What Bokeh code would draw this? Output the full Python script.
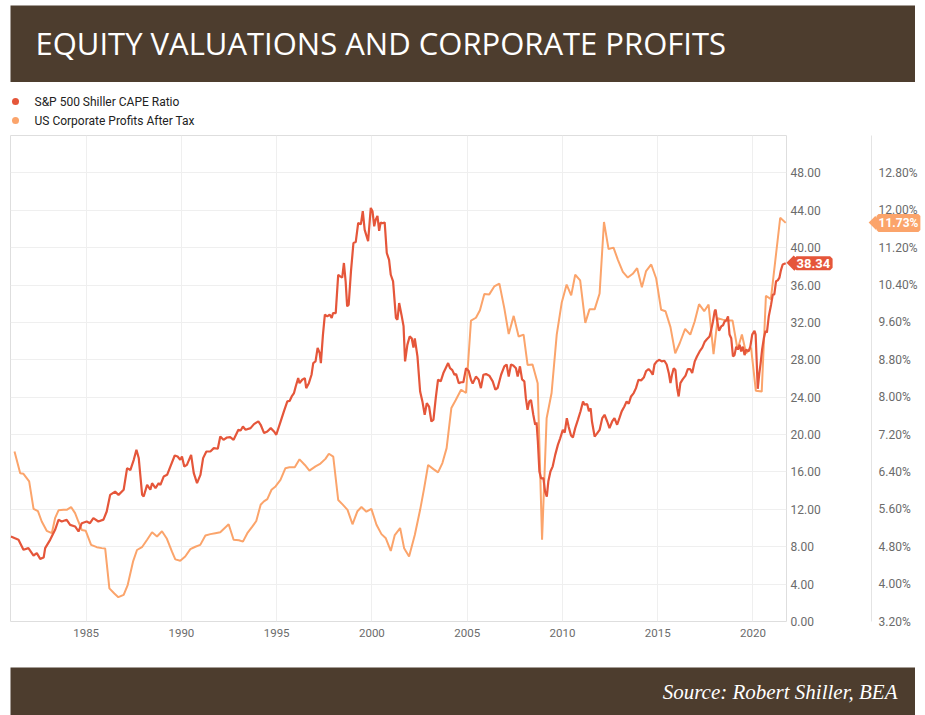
from bokeh.plotting import figure
from bokeh.models import (Range1d, LinearAxis, FixedTicker, NumeralTickFormatter,
                          PrintfTickFormatter, Label, Spacer)
from bokeh.layouts import column, row
from bokeh.core.properties import value
from bokeh.embed import file_html
from bokeh.resources import INLINE

# ---------------- data ----------------
TITLE = "EQUITY VALUATIONS AND CORPORATE PROFITS"
SOURCE = "Source: Robert Shiller, BEA"
CAPE_NAME = "S&P 500 Shiller CAPE Ratio"
PROFIT_NAME = "US Corporate Profits After Tax"

CAPE_YEAR = [
    1981.05, 1981.45, 1981.71, 1981.97, 1982.24, 1982.41, 1982.59, 1982.77, 1982.85, 1983.11,
    1983.37, 1983.55, 1983.72, 1983.98, 1984.16, 1984.42, 1984.60, 1984.77, 1985.03, 1985.20,
    1985.38, 1985.64, 1985.91, 1986.08, 1986.26, 1986.52, 1986.70, 1986.97, 1987.15, 1987.32,
    1987.50, 1987.64, 1987.76, 1987.94, 1988.02, 1988.20, 1988.37, 1988.46, 1988.64, 1988.81,
    1988.90, 1989.07, 1989.25, 1989.42, 1989.65, 1989.80, 1989.94, 1990.03, 1990.15, 1990.29,
    1990.51, 1990.65, 1990.82, 1991.00, 1991.14, 1991.31, 1991.52, 1991.70, 1991.91, 1992.04,
    1992.21, 1992.39, 1992.56, 1992.74, 1992.99, 1993.11, 1993.23, 1993.37, 1993.63, 1993.81,
    1994.04, 1994.16, 1994.34, 1994.51, 1994.69, 1994.86, 1994.98, 1995.21, 1995.38, 1995.56,
    1995.68, 1995.79, 1995.91, 1996.00, 1996.13, 1996.20, 1996.34, 1996.48, 1996.55, 1996.69,
    1996.83, 1996.92, 1997.04, 1997.15, 1997.26, 1997.32, 1997.43, 1997.53, 1997.66, 1997.78,
    1997.89, 1997.96, 1998.10, 1998.23, 1998.35, 1998.44, 1998.53, 1998.62, 1998.70, 1998.78,
    1998.90, 1999.03, 1999.15, 1999.28, 1999.42, 1999.52, 1999.62, 1999.80, 1999.94, 2000.03,
    2000.12, 2000.20, 2000.29, 2000.38, 2000.46, 2000.55, 2000.67, 2000.78, 2000.90, 2000.99,
    2001.11, 2001.26, 2001.34, 2001.43, 2001.55, 2001.66, 2001.74, 2001.86, 2001.98, 2002.09,
    2002.18, 2002.25, 2002.39, 2002.53, 2002.65, 2002.77, 2002.88, 2003.00, 2003.12, 2003.23,
    2003.35, 2003.47, 2003.61, 2003.75, 2003.87, 2004.00, 2004.10, 2004.22, 2004.33, 2004.42,
    2004.56, 2004.68, 2004.80, 2004.94, 2005.08, 2005.20, 2005.29, 2005.46, 2005.60, 2005.72,
    2005.85, 2005.99, 2006.16, 2006.34, 2006.48, 2006.60, 2006.78, 2006.95, 2007.07, 2007.18,
    2007.30, 2007.42, 2007.56, 2007.65, 2007.77, 2007.88, 2008.00, 2008.08, 2008.17, 2008.26,
    2008.35, 2008.47, 2008.57, 2008.64, 2008.71, 2008.79, 2008.88, 2009.00, 2009.09, 2009.18,
    2009.26, 2009.37, 2009.49, 2009.62, 2009.76, 2009.88, 2010.02, 2010.12, 2010.23, 2010.33,
    2010.45, 2010.55, 2010.67, 2010.81, 2010.95, 2011.08, 2011.16, 2011.30, 2011.39, 2011.48,
    2011.55, 2011.69, 2011.81, 2011.95, 2012.09, 2012.21, 2012.35, 2012.47, 2012.61, 2012.73,
    2012.87, 2012.99, 2013.11, 2013.25, 2013.37, 2013.48, 2013.60, 2013.74, 2013.86, 2013.99,
    2014.13, 2014.27, 2014.39, 2014.52, 2014.62, 2014.74, 2014.83, 2014.95, 2015.09, 2015.21,
    2015.35, 2015.47, 2015.58, 2015.67, 2015.75, 2015.84, 2015.93, 2016.02, 2016.10, 2016.19,
    2016.31, 2016.46, 2016.58, 2016.71, 2016.81, 2016.94, 2017.06, 2017.20, 2017.34, 2017.46,
    2017.58, 2017.72, 2017.81, 2017.90, 2017.99, 2018.04, 2018.11, 2018.22, 2018.34, 2018.43,
    2018.51, 2018.60, 2018.69, 2018.77, 2018.86, 2018.95, 2019.03, 2019.12, 2019.21, 2019.30,
    2019.38, 2019.47, 2019.56, 2019.64, 2019.77, 2019.86, 2019.96, 2020.08, 2020.14, 2020.20,
    2020.25, 2020.33, 2020.40, 2020.48, 2020.57, 2020.66, 2020.73, 2020.83, 2020.95, 2021.04,
    2021.12, 2021.21, 2021.30, 2021.39, 2021.47, 2021.56, 2021.72,
]
CAPE = [
    9.09, 8.74, 7.67, 7.85, 7.06, 7.31, 6.70, 6.84, 7.85, 8.74,
    9.81, 10.88, 10.70, 10.88, 10.34, 10.17, 9.63, 10.52, 10.70, 10.52,
    11.06, 10.70, 10.90, 11.77, 13.55, 13.90, 13.55, 14.10, 16.41, 16.20,
    17.30, 18.37, 17.50, 13.55, 13.37, 14.62, 14.10, 14.80, 14.27, 14.80,
    14.62, 15.51, 15.69, 16.58, 17.76, 17.65, 17.30, 17.65, 16.58, 16.76,
    17.83, 15.87, 14.80, 15.69, 17.48, 18.19, 18.19, 18.55, 18.48, 19.80,
    19.44, 19.69, 19.73, 19.44, 20.51, 20.44, 20.87, 20.51, 20.69, 21.12,
    21.41, 21.05, 20.16, 20.33, 20.69, 20.33, 19.98, 21.41, 22.48, 23.55,
    23.60, 24.08, 24.44, 25.15, 26.04, 25.50, 25.87, 26.04, 24.97, 25.50,
    26.40, 27.65, 27.83, 29.26, 28.72, 27.65, 30.69, 32.83, 32.65, 32.83,
    32.47, 33.00, 33.00, 37.10, 36.90, 36.80, 38.36, 36.40, 33.72, 33.90,
    37.46, 40.50, 40.60, 42.64, 42.50, 43.90, 41.90, 40.70, 44.25, 43.90,
    42.28, 43.00, 43.40, 41.80, 42.70, 42.60, 42.70, 39.43, 38.70, 37.10,
    36.40, 32.47, 32.30, 34.07, 32.83, 31.60, 27.83, 29.60, 30.50, 30.30,
    29.30, 30.30, 28.36, 24.61, 23.55, 22.12, 23.37, 23.00, 21.40, 21.60,
    23.90, 25.87, 25.70, 26.58, 27.10, 27.65, 27.10, 26.90, 26.40, 26.47,
    25.50, 25.60, 25.60, 27.10, 26.80, 25.87, 25.45, 26.20, 25.90, 24.97,
    26.40, 26.47, 26.30, 25.70, 24.80, 25.00, 26.40, 27.29, 27.50, 26.20,
    27.50, 27.40, 27.10, 26.20, 27.30, 25.90, 25.70, 23.90, 22.65, 23.55,
    23.70, 22.12, 21.05, 21.30, 19.26, 16.05, 15.30, 15.34, 13.90, 13.37,
    15.00, 16.05, 16.60, 17.83, 18.90, 19.60, 20.50, 20.20, 21.76, 20.80,
    19.90, 19.70, 20.69, 21.58, 22.50, 23.55, 23.20, 23.25, 22.50, 22.80,
    21.40, 19.80, 20.10, 20.50, 21.76, 22.12, 21.40, 20.69, 21.40, 21.76,
    21.05, 21.76, 22.48, 23.00, 23.55, 23.30, 24.08, 24.44, 24.97, 25.87,
    25.80, 26.10, 26.80, 27.00, 26.80, 26.40, 27.50, 27.83, 28.00, 27.83,
    27.90, 27.50, 26.60, 25.50, 26.40, 27.10, 26.90, 24.97, 24.08, 25.50,
    25.90, 26.30, 27.00, 27.00, 26.60, 27.80, 28.36, 28.90, 29.30, 29.90,
    30.20, 30.50, 31.20, 32.10, 33.20, 33.36, 32.30, 31.10, 31.60, 31.70,
    32.10, 32.20, 32.65, 30.70, 30.30, 28.36, 28.50, 29.40, 29.10, 29.60,
    28.90, 29.40, 28.50, 29.10, 28.90, 29.40, 30.70, 31.10, 30.70, 27.60,
    24.90, 26.50, 27.60, 29.10, 30.30, 31.10, 30.90, 32.65, 33.90, 34.97,
    35.00, 36.40, 36.50, 36.80, 37.60, 38.20, 38.34,
]

PROFIT_YEAR = [
    1981.24, 1981.54, 1981.71, 1982.01, 1982.24, 1982.47, 1982.67, 1982.93, 1983.20, 1983.37,
    1983.55, 1983.81, 1983.98, 1984.21, 1984.42, 1984.59, 1984.77, 1984.98, 1985.26, 1985.56,
    1985.82, 1986.00, 1986.22, 1986.48, 1986.69, 1986.97, 1987.18, 1987.46, 1987.67, 1987.93,
    1988.20, 1988.46, 1988.72, 1988.98, 1989.24, 1989.50, 1989.68, 1989.94, 1990.20, 1990.47,
    1990.73, 1990.99, 1991.26, 1991.52, 1991.78, 1992.04, 1992.22, 1992.48, 1992.74, 1993.02,
    1993.23, 1993.46, 1993.72, 1993.93, 1994.16, 1994.33, 1994.51, 1994.73, 1994.94, 1995.20,
    1995.46, 1995.67, 1995.95, 1996.20, 1996.48, 1996.72, 1997.04, 1997.30, 1997.56, 1997.74,
    1997.97, 1998.23, 1998.47, 1998.72, 1998.98, 1999.24, 1999.45, 1999.71, 1999.97, 2000.24,
    2000.50, 2000.73, 2000.99, 2001.20, 2001.48, 2001.69, 2001.95, 2002.25, 2002.53, 2002.74,
    2002.95, 2003.23, 2003.47, 2003.70, 2003.92, 2004.17, 2004.40, 2004.68, 2004.94, 2005.20,
    2005.46, 2005.67, 2005.90, 2006.16, 2006.42, 2006.69, 2006.95, 2007.18, 2007.44, 2007.70,
    2007.96, 2008.17, 2008.43, 2008.70, 2008.93, 2009.17, 2009.43, 2009.70, 2009.96, 2010.22,
    2010.46, 2010.67, 2010.93, 2011.20, 2011.42, 2011.69, 2011.95, 2012.18, 2012.42, 2012.68,
    2012.91, 2013.17, 2013.43, 2013.69, 2013.92, 2014.17, 2014.39, 2014.66, 2014.92, 2015.18,
    2015.41, 2015.67, 2015.92, 2016.16, 2016.44, 2016.71, 2016.94, 2017.17, 2017.44, 2017.67,
    2017.93, 2018.15, 2018.41, 2018.67, 2018.93, 2019.19, 2019.42, 2019.64, 2019.90, 2020.15,
    2020.46, 2020.68, 2020.94, 2021.43, 2021.72,
]
PROFIT_PCT = [
    6.84, 6.37, 6.36, 6.20, 5.61, 5.56, 5.34, 5.14, 5.09, 5.41,
    5.58, 5.59, 5.59, 5.65, 5.52, 5.34, 5.16, 5.14, 4.84, 4.79,
    4.77, 4.76, 3.91, 3.80, 3.72, 3.77, 3.98, 4.48, 4.73, 4.79,
    4.95, 5.11, 5.02, 5.13, 4.97, 4.70, 4.53, 4.50, 4.59, 4.75,
    4.80, 4.84, 5.04, 5.07, 5.09, 5.11, 5.18, 5.28, 4.95, 4.94,
    4.91, 5.09, 5.23, 5.35, 5.70, 5.77, 5.82, 6.02, 6.09, 6.23,
    6.48, 6.50, 6.50, 6.67, 6.55, 6.43, 6.52, 6.58, 6.68, 6.79,
    6.73, 5.80, 5.70, 5.59, 5.28, 5.56, 5.65, 5.55, 5.61, 5.27,
    5.07, 4.98, 4.71, 5.05, 5.20, 4.77, 4.59, 5.05, 5.59, 6.05,
    6.55, 6.46, 6.39, 6.59, 6.91, 7.77, 7.94, 8.16, 8.09, 9.64,
    9.70, 9.86, 10.21, 10.20, 10.37, 10.43, 9.90, 9.35, 9.74, 9.30,
    9.34, 8.69, 8.70, 8.30, 4.95, 7.55, 8.09, 9.34, 10.02, 10.41,
    10.18, 10.62, 10.50, 9.59, 9.88, 9.88, 10.22, 11.75, 11.17, 11.20,
    10.94, 10.68, 10.56, 10.64, 10.76, 10.35, 10.70, 10.84, 10.54, 9.87,
    9.84, 9.50, 8.94, 9.16, 9.46, 9.34, 9.62, 9.99, 9.84, 9.98,
    8.92, 9.69, 9.66, 9.64, 9.64, 9.02, 9.34, 8.94, 9.06, 8.14,
    8.12, 10.17, 10.10, 11.84, 11.73,
]

X_TICKS = [1985, 1990, 1995, 2000, 2005, 2010, 2015, 2020]
CAPE_TICKS = [0, 4, 8, 12, 16, 20, 24, 28, 32, 36, 40, 44, 48]
PCT_TICKS = [3.2, 4.0, 4.8, 5.6, 6.4, 7.2, 8.0, 8.8, 9.6, 10.4, 11.2, 12.0, 12.8]

# ---------------- style ----------------
RED = "#E5563A"
ORANGE = "#FBA46B"
BROWN = "#4D3D2E"
GRID = "#efefef"
LABEL = "#6b6b6b"

W = 925
X0, X1 = 1981.03, 2021.76
Y0, Y1 = 0, 52
P0, P1 = 3.2, 13.6
LEFT_B, RIGHT_B = 10, 139
FRAME_W = W - LEFT_B - RIGHT_B

# ---------------- title bar ----------------
BAR_W, BAR_H = 905, 77
bar = figure(width=BAR_W, height=BAR_H, x_range=Range1d(0, BAR_W), y_range=Range1d(0, BAR_H),
             x_axis_type=None, y_axis_type=None, output_backend="svg", toolbar_location=None,
             min_border=0, background_fill_color=BROWN, border_fill_color=BROWN)
bar.grid.visible = False
bar.outline_line_color = None
bar.text(x=[25], y=[40], text=[TITLE], text_font=value("Open Sans"),
         text_font_size="31px", text_color="white", text_baseline="middle")

# ---------------- legend strip ----------------
LEG_H = 48
leg = figure(width=W, height=LEG_H, x_range=Range1d(0, FRAME_W), y_range=Range1d(0, LEG_H),
             x_axis_type=None, y_axis_type=None, output_backend="svg", toolbar_location=None,
             min_border_left=LEFT_B, min_border_right=RIGHT_B, min_border_top=0,
             min_border_bottom=0)
leg.grid.visible = False
leg.outline_line_color = None
leg.scatter(x=[5, 5], y=[29, 10], size=7, color=[RED, ORANGE], line_color=None)
leg.text(x=[24, 24], y=[29, 10], text=[CAPE_NAME, PROFIT_NAME], text_font=value("Roboto"),
         text_font_size="12px", text_color="#222222", text_baseline="middle")

# ---------------- main chart ----------------
p = figure(width=W, height=537, x_range=Range1d(X0, X1), y_range=Range1d(Y0, Y1),
           y_axis_location="right", output_backend="svg", toolbar_location=None,
           min_border_left=LEFT_B, min_border_right=RIGHT_B, min_border_top=5,
           min_border_bottom=46)
p.extra_y_ranges = {"pct": Range1d(P0, P1)}
p.outline_line_color = "#dedede"
p.xgrid.grid_line_color = GRID
p.ygrid.grid_line_color = GRID

xa = p.xaxis[0]
xa.ticker = FixedTicker(ticks=X_TICKS)
xa.axis_line_color = None
xa.major_tick_line_color = None
xa.minor_tick_line_color = None
xa.major_tick_out = 0
xa.major_label_standoff = 7
xa.major_label_text_font = "Roboto"
xa.major_label_text_font_size = "11.5px"
xa.major_label_text_color = LABEL

ya = p.yaxis[0]
ya.ticker = FixedTicker(ticks=CAPE_TICKS)
ya.formatter = NumeralTickFormatter(format="0.00")
ya.axis_line_color = None
ya.major_tick_line_color = None
ya.minor_tick_line_color = None
ya.major_tick_out = 0
ya.major_tick_in = 0
ya.major_label_standoff = 4
ya.major_label_text_font = "Roboto"
ya.major_label_text_font_size = "12px"
ya.major_label_text_color = LABEL
ya.axis_label = " "
ya.axis_label_text_font_size = "10px"
ya.axis_label_standoff = 34

pa = LinearAxis(y_range_name="pct", ticker=FixedTicker(ticks=PCT_TICKS),
                formatter=PrintfTickFormatter(format="%.2f%%"))
pa.axis_line_color = "#e4e4e4"
pa.major_tick_line_color = None
pa.minor_tick_line_color = None
pa.major_tick_out = 0
pa.major_tick_in = 0
pa.major_label_standoff = 7
pa.major_label_text_font = "Roboto"
pa.major_label_text_font_size = "12px"
pa.major_label_text_color = LABEL
p.add_layout(pa, "right")

p.line(PROFIT_YEAR, PROFIT_PCT, color=ORANGE, line_width=2, y_range_name="pct")
p.line(CAPE_YEAR, CAPE, color=RED, line_width=2.2)

# value badges (placed in a side panel so they are not clipped to the plot frame)
px_x = FRAME_W / (X1 - X0)
cape_last = CAPE[-1]
pct_last = PROFIT_PCT[-1]

# pointer tips: tiny rotated squares, added first so the badges are drawn over them
p.add_layout(Label(x=X1 + 7.5 / px_x, y=cape_last, text=" ", text_font_size="1px",
                   text_align="center", text_baseline="middle", angle=45, angle_units="deg",
                   padding=0, background_fill_color=RED, background_fill_alpha=1,
                   border_line_color=RED, border_line_width=10, border_line_join="miter"),
             "below")
p.add_layout(Label(x=X1 + 89 / px_x, y=pct_last, text=" ", text_font_size="1px",
                   text_align="center", text_baseline="middle", angle=45, angle_units="deg",
                   y_range_name="pct", padding=0, background_fill_color=ORANGE,
                   background_fill_alpha=1, border_line_color=ORANGE, border_line_width=9,
                   border_line_join="miter"),
             "below")

p.add_layout(Label(x=X1 + 10 / px_x, y=cape_last, text=f"{cape_last:.2f}",
                   text_color="white", text_font="Roboto", text_font_style="bold",
                   text_font_size="13px", text_baseline="middle", padding=0,
                   background_fill_color=RED, background_fill_alpha=1,
                   border_line_color=RED, border_line_width=5), "below")
p.add_layout(Label(x=X1 + 92 / px_x, y=pct_last, text=f"{pct_last:.2f}%",
                   text_color="white", text_font="Roboto", text_font_style="bold",
                   text_font_size="12px", text_baseline="middle", y_range_name="pct",
                   padding=0, background_fill_color=ORANGE, background_fill_alpha=1,
                   border_line_color=ORANGE, border_line_width=4), "below")

# ---------------- footer ----------------
FOOT_W, FOOT_H = 905, 48
foot = figure(width=FOOT_W, height=FOOT_H, x_range=Range1d(0, FOOT_W), y_range=Range1d(0, FOOT_H),
              x_axis_type=None, y_axis_type=None, output_backend="svg", toolbar_location=None,
              min_border=0, background_fill_color=BROWN, border_fill_color=BROWN)
foot.grid.visible = False
foot.outline_line_color = None
foot.text(x=[887], y=[24], text=[SOURCE], text_font=value("Liberation Serif"),
          text_font_style="italic", text_font_size="21px", text_color="white",
          text_align="right", text_baseline="middle")

layout = column(
    Spacer(height=5),
    row(Spacer(width=10), bar),
    leg,
    p,
    row(Spacer(width=10), foot),
    spacing=0,
)
open("out.html", "w").write(file_html(layout, INLINE))
